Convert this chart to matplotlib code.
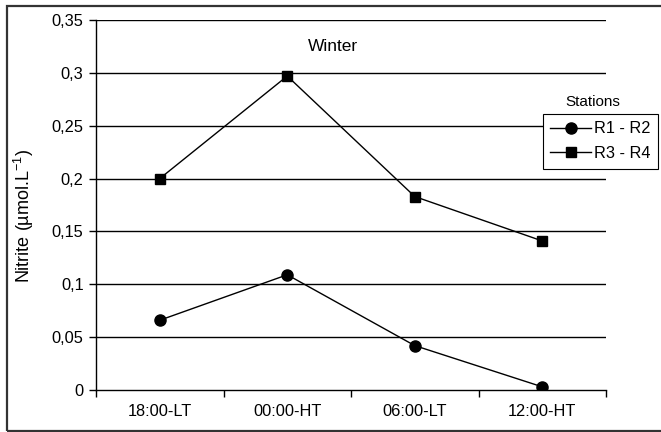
import matplotlib
matplotlib.use("Agg")
import matplotlib.pyplot as plt
from matplotlib.lines import Line2D
from matplotlib.patches import Rectangle

plt.rcParams['font.family'] = ['Liberation Sans', 'DejaVu Sans']
plt.rcParams['mathtext.default'] = 'regular'

categories = ["18:00-LT", "00:00-HT", "06:00-LT", "12:00-HT"]
r1_r2 = [0.066, 0.109, 0.042, 0.003]
r3_r4 = [0.200, 0.297, 0.183, 0.141]
y_ticks = [0, 0.05, 0.1, 0.15, 0.2, 0.25, 0.3, 0.35]
y_tick_labels = ["0", "0,05", "0,1", "0,15", "0,2", "0,25", "0,3", "0,35"]

W, H = 661, 432
fig = plt.figure(figsize=(W / 100, H / 100), dpi=100)
ax = fig.add_axes([96 / W, 1 - 390 / H, 510 / W, 370 / H])

# outer chart frame (right side runs past the image edge)
fig.patches.append(Rectangle((7 / W, 1 / H), 1.2, 1 - 7 / H, transform=fig.transFigure,
                             fill=False, edgecolor='#333333', linewidth=1.6, clip_on=False))

x = list(range(len(categories)))
for yv in y_ticks[1:]:
    ax.axhline(yv, color='black', linewidth=1.0, zorder=1)

ax.plot(x, r1_r2, color='black', linewidth=1.0, marker='o', markersize=8, zorder=3)
ax.plot(x, r3_r4, color='black', linewidth=1.0, marker='s', markersize=7.5, zorder=3)

ax.set_xlim(-0.5, 3.5)
ax.set_ylim(0, 0.35)
ax.set_yticks(y_ticks)
ax.set_yticklabels(y_tick_labels, fontsize=11.8)
ax.set_xticks([-0.5, 0.5, 1.5, 2.5, 3.5])
ax.set_xticklabels([])
ax.set_xticks(x, minor=True)
ax.set_xticklabels(categories, minor=True, fontsize=11.8)
ax.tick_params(axis='x', which='minor', length=0, pad=10)
ax.tick_params(axis='x', which='major', direction='out', length=5, width=1, color='black')
ax.tick_params(axis='y', direction='out', length=5, width=1, color='black', pad=4)
for s in ['top', 'right']:
    ax.spines[s].set_visible(False)
ax.spines['left'].set_linewidth(1.0)
ax.spines['bottom'].set_linewidth(1.0)

ax.set_ylabel("Nitrite (µmol.L$^{-1}$)", fontsize=13)
ax.yaxis.set_label_coords(-60 / 510, 0.47)

ax.text(1.36, 0.325, "Winter", ha='center', va='center', fontsize=12.5)

handles = [
    Line2D([], [], color='black', linewidth=1.0, marker='o', markersize=8),
    Line2D([], [], color='black', linewidth=1.0, marker='s', markersize=7.5),
]
leg = fig.legend(handles, ["R1 - R2", "R3 - R4"], loc='upper left',
                 bbox_to_anchor=(543 / W, 1 - 114 / H), fontsize=11.8,
                 frameon=True, fancybox=False, edgecolor='black', framealpha=1,
                 handlelength=2.5, handletextpad=0.15, borderpad=0.45,
                 labelspacing=0.6, borderaxespad=0)
leg.get_frame().set_linewidth(0.8)
fig.text(593 / W, 1 - 102 / H, "Stations", ha='center', va='center', fontsize=11)

fig.savefig("out.png", dpi=100)
